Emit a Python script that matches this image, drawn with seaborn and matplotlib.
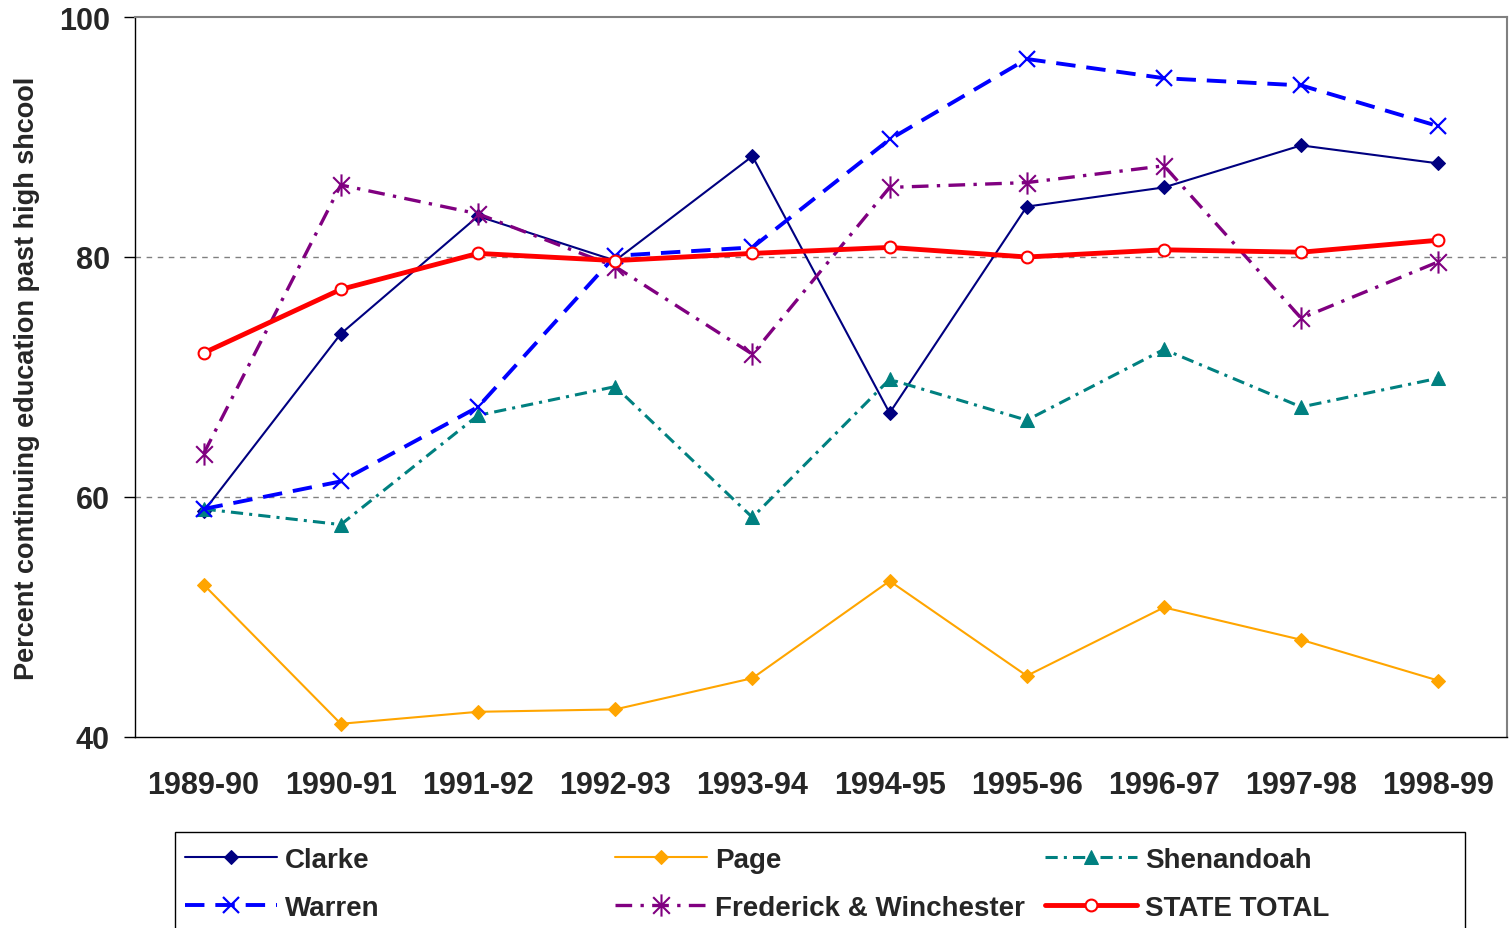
import numpy as np
import pandas as pd
import matplotlib
matplotlib.use('Agg')
import matplotlib.pyplot as plt
import seaborn as sns
from matplotlib.path import Path
from matplotlib.patches import Rectangle

YEARS = ['1989-90', '1990-91', '1991-92', '1992-93', '1993-94',
         '1994-95', '1995-96', '1996-97', '1997-98', '1998-99']

clarke = [58.8, 73.6, 83.4, 79.7, 88.4, 67.0, 84.2, 85.8, 89.3, 87.8]
page = [52.7, 41.1, 42.1, 42.3, 44.9, 53.0, 45.1, 50.8, 48.1, 44.7]
shenandoah = [59.0, 57.7, 66.8, 69.2, 58.3, 69.8, 66.4, 72.3, 67.5, 69.9]
warren = [59.0, 61.3, 67.5, 80.1, 80.8, 89.8, 96.5, 94.9, 94.3, 90.9]
frederick = [63.6, 86.0, 83.6, 79.2, 71.9, 85.8, 86.2, 87.6, 74.9, 79.6]
state_total = [72.0, 77.3, 80.3, 79.7, 80.3, 80.8, 80.0, 80.6, 80.4, 81.4]

Y_TICKS = [40, 60, 80, 100]

# excel style asterisk: vertical bar plus an x
star = Path([(0, -1), (0, 1), (-0.75, -0.75), (0.75, 0.75), (-0.75, 0.75), (0.75, -0.75)],
            [Path.MOVETO, Path.LINETO, Path.MOVETO, Path.LINETO, Path.MOVETO, Path.LINETO])

series = [
    ('Clarke', clarke, dict(color='#000080', lw=1.5, marker='D', ms=7.5, mfc='#000080', mec='#000080'), None),
    ('Page', page, dict(color='#FFA500', lw=1.5, marker='D', ms=7.5, mfc='#FFA500', mec='#FFA500'), None),
    ('Shenandoah', shenandoah, dict(color='#008080', lw=2.2, marker='^', ms=9.5, mfc='#008080', mec='#008080'), (4, 2, 1, 2)),
    ('Warren', warren, dict(color='#0000FF', lw=2.8, marker='x', ms=12, mec='#0000FF', mew=1.6), (5, 2.8)),
    ('Frederick & Winchester', frederick, dict(color='#800080', lw=2.4, marker=star, ms=16, mec='#800080', mew=1.5), (5, 2.5, 1, 2.5)),
    ('STATE TOTAL', state_total, dict(color='#FF0000', lw=3.5, marker='o', ms=8.5, mfc='white', mec='#FF0000', mew=1.5), None),
]

sns.set_style('white')
plt.rcParams['font.family'] = ['Liberation Sans', 'DejaVu Sans']
plt.rcParams['font.weight'] = 'bold'

fig = plt.figure(figsize=(15.09, 9.29), dpi=100)
ax = fig.add_axes([135 / 1509, 1 - 738 / 929, 1372 / 1509, 720 / 929])

for y in [60, 80]:
    ax.axhline(y, color='#808080', lw=1, ls=(0, (4, 4)), zorder=0)

x_pos = np.arange(len(YEARS))
for name, vals, style, dash in series:
    df = pd.DataFrame({'x': x_pos, 'y': vals})
    sns.lineplot(data=df, x='x', y='y', ax=ax, label=name, **style)
    line = ax.lines[-1]
    if dash is not None:
        line.set_dashes(dash)

ax.set_xlim(-0.5, len(YEARS) - 0.5)
ax.set_ylim(40, 100)
ax.set_yticks(Y_TICKS)
ax.set_yticklabels([str(t) for t in Y_TICKS], fontsize=22, fontweight='bold')
ax.set_xticks(x_pos)
ax.set_xticklabels(YEARS, fontsize=22, fontweight='bold')
ax.set_xticks(np.arange(-0.5, len(YEARS), 1.0), minor=True)
ax.tick_params(axis='x', which='major', length=0, pad=24)
ax.tick_params(axis='x', which='minor', length=9, width=1, color='black', direction='out')
ax.tick_params(axis='y', which='major', length=8, width=1, color='black', direction='out', pad=10, left=True)
ax.set_xlabel('')
ax.set_ylabel('Percent continuing education past high shcool', fontsize=19.5, fontweight='bold', labelpad=14)

for side in ['left', 'bottom']:
    ax.spines[side].set_color('black')
    ax.spines[side].set_linewidth(1)
for side in ['top', 'right']:
    ax.spines[side].set_color('#808080')
    ax.spines[side].set_linewidth(1.5)

handles, labels = ax.get_legend_handles_labels()
ax.get_legend().remove()

# legend frame, running off the bottom edge like the original
fig.patches.append(Rectangle((175 / 1509, -0.02), 1290 / 1509, 0.02 + 1 - 833 / 929,
                             transform=fig.transFigure, facecolor='white',
                             edgecolor='black', lw=1, zorder=1))

# three legend columns at fixed positions: (Clarke, Warren), (Page, Frederick), (Shenandoah, STATE)
col_x = [185, 615, 1045]
for c, idx in enumerate([(0, 3), (1, 4), (2, 5)]):
    leg = fig.legend([handles[i] for i in idx], [labels[i] for i in idx],
                     loc='upper left', bbox_to_anchor=(col_x[c] / 1509, 1 - 848 / 929),
                     ncol=1, handlelength=3.3, handletextpad=0.3,
                     labelspacing=0.78, borderpad=0, borderaxespad=0, frameon=False,
                     prop={'weight': 'bold', 'size': 20})
    leg.set_zorder(2)

fig.savefig('out.png', dpi=100)
plt.close(fig)
